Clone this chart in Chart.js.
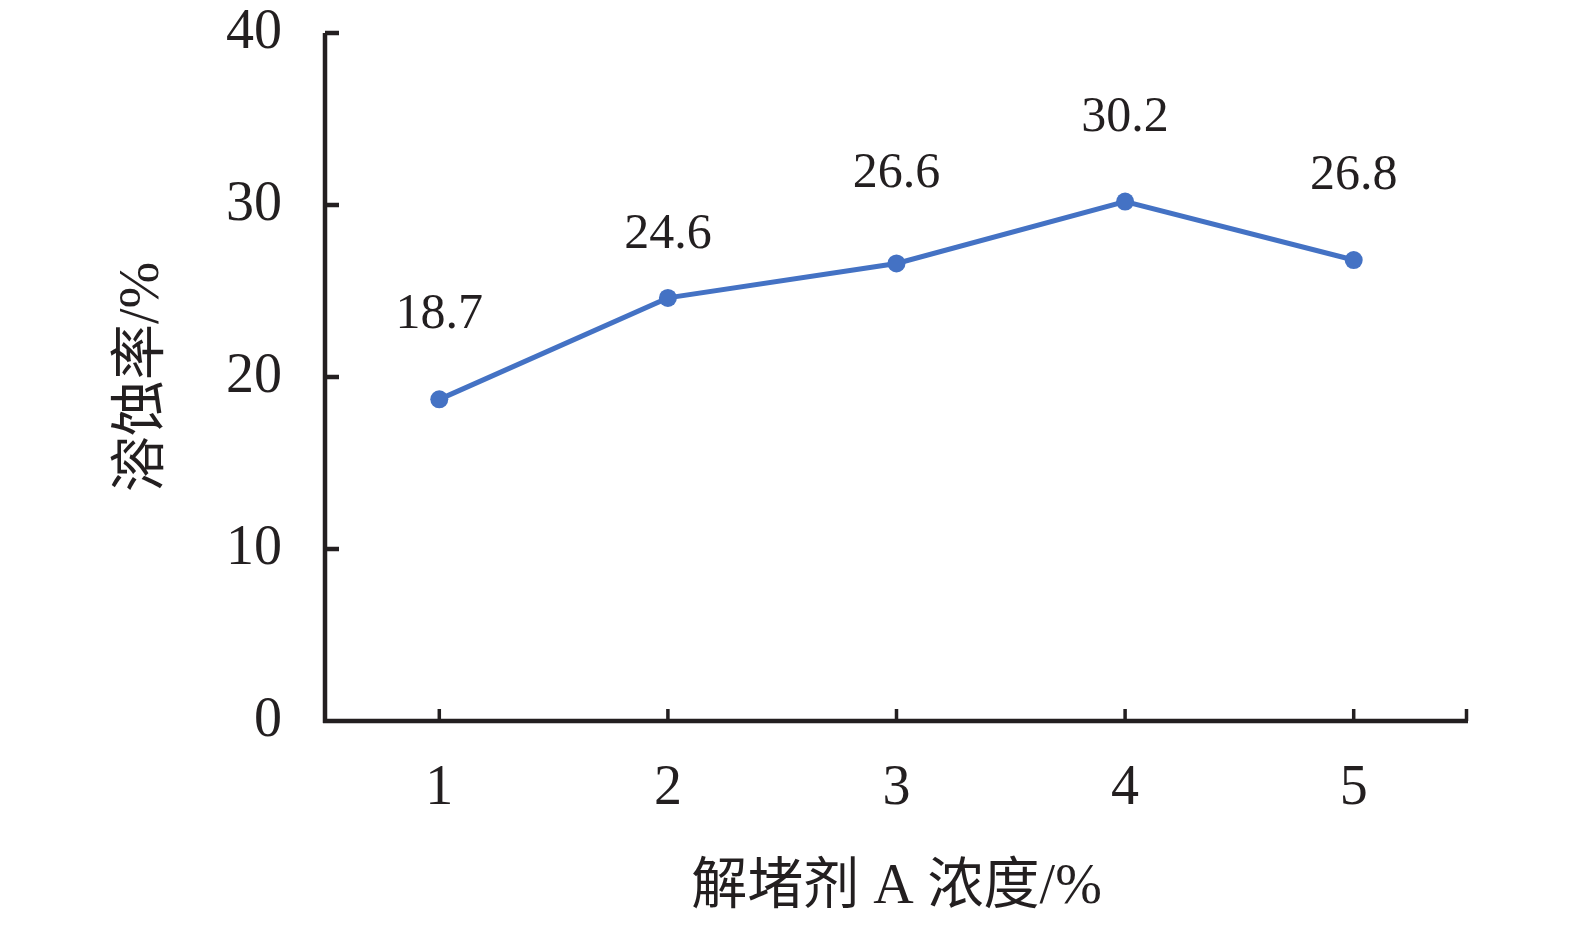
<!DOCTYPE html>
<html>
<head>
<meta charset="utf-8">
<script src="https://cdn.jsdelivr.net/npm/chart.js@4.4.1/dist/chart.umd.min.js"></script>
<style>
  html, body { margin: 0; padding: 0; background: #fff; }
  #wrap { width: 1575px; height: 934px; }
</style>
</head>
<body>
<div id="wrap"><canvas id="rateChart" width="1575" height="934"></canvas></div>
<script>
// data
const concentrations = ['1', '2', '3', '4', '5'];
const dissolutionRates = [18.7, 24.6, 26.6, 30.2, 26.8];
const yTicks = [0, 10, 20, 30, 40];

const ink = '#231f20';
const serif = '"Liberation Serif", "Noto Sans CJK SC", serif';

// axis lines plus inward tick marks
const axisMarks = {
    id: 'axisMarks',
    beforeDatasetsDraw(chart) {
        const { ctx, chartArea: a, scales: { x, y } } = chart;
        ctx.save();
        ctx.strokeStyle = ink;
        ctx.lineCap = 'butt';

        ctx.lineWidth = 4.5;
        ctx.beginPath();
        ctx.moveTo(a.left, a.top);
        ctx.lineTo(a.left, a.bottom + 2);
        ctx.moveTo(a.left - 2, a.bottom);
        ctx.lineTo(a.right, a.bottom);
        ctx.stroke();

        ctx.beginPath();
        y.ticks.forEach((t, i) => {
            if (t.value === 0) return;
            const py = y.getPixelForTick(i);
            ctx.moveTo(a.left, py);
            ctx.lineTo(a.left + 14, py);
        });
        ctx.stroke();

        ctx.lineWidth = 3.5;
        ctx.beginPath();
        x.ticks.forEach((t, i) => {
            const px = x.getPixelForTick(i);
            ctx.moveTo(px, a.bottom);
            ctx.lineTo(px, a.bottom - 12);
        });
        ctx.moveTo(a.right - 1.5, a.bottom);
        ctx.lineTo(a.right - 1.5, a.bottom - 12);
        ctx.stroke();
        ctx.restore();
    }
};

// value labels above each point (the 2nd and 3rd were nudged by hand in the original)
const labelNudge = [0, 21, -5, 0, 0];
const valueLabels = {
    id: 'valueLabels',
    afterDatasetsDraw(chart) {
        const { ctx } = chart;
        const meta = chart.getDatasetMeta(0);
        ctx.save();
        ctx.fillStyle = ink;
        ctx.font = '50px ' + serif;
        ctx.textAlign = 'center';
        ctx.textBaseline = 'alphabetic';
        meta.data.forEach((pt, i) => {
            ctx.fillText(dissolutionRates[i].toFixed(1), pt.x, pt.y - 71 + labelNudge[i]);
        });
        ctx.restore();
    }
};

const ctx = document.getElementById('rateChart').getContext('2d');
new Chart(ctx, {
    type: 'line',
    data: {
        labels: concentrations,
        datasets: [{
            data: dissolutionRates,
            borderColor: '#4472c4',
            backgroundColor: '#4472c4',
            borderWidth: 5,
            pointRadius: 9,
            pointBorderWidth: 0,
            pointBackgroundColor: '#4472c4',
            tension: 0
        }]
    },
    options: {
        responsive: false,
        animation: false,
        layout: { padding: { left: 115, right: 107, top: 33, bottom: 18 } },
        plugins: {
            legend: { display: false },
            tooltip: { enabled: false }
        },
        scales: {
            x: {
                offset: true,
                grid: { display: false, drawTicks: false },
                border: { display: false },
                ticks: {
                    color: ink,
                    padding: 35,
                    font: { family: serif, size: 56 }
                },
                title: {
                    display: true,
                    text: '解堵剂 A 浓度/%',
                    color: ink,
                    font: { family: serif, size: 56, lineHeight: 1 },
                    padding: 0
                },
                afterFit(scale) {
                    scale.height = 934 - 721 - 18;
                    scale.paddingLeft = 0;
                    scale.paddingRight = 0;
                }
            },
            y: {
                min: 0,
                max: 40,
                afterBuildTicks(scale) { scale.ticks = yTicks.map(v => ({ value: v })); },
                grid: { display: false, drawTicks: false },
                border: { display: false },
                ticks: {
                    color: ink,
                    padding: 43,
                    font: { family: serif, size: 56 }
                },
                title: {
                    display: true,
                    text: '溶蚀率/%',
                    color: ink,
                    font: { family: serif, size: 56, lineHeight: 1 },
                    padding: 0
                },
                afterFit(scale) {
                    scale.width = 325 - 115;
                    scale.paddingTop = 0;
                    scale.paddingBottom = 0;
                }
            }
        }
    },
    plugins: [axisMarks, valueLabels]
});
</script>
</body>
</html>
